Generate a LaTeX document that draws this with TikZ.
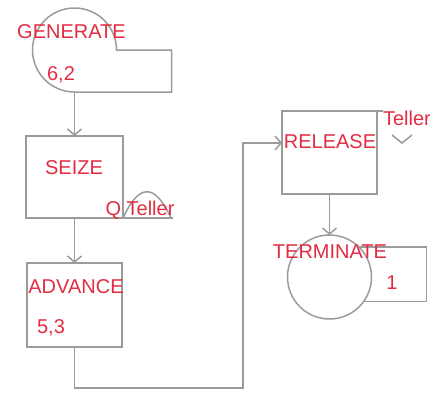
\documentclass[tikz,border=0pt]{standalone}
\usepackage{fontspec}
\setmainfont{Liberation Sans}
\usetikzlibrary{arrows.meta}
\definecolor{gpssred}{RGB}{226,44,66}
\definecolor{gpssgray}{RGB}{155,155,155}
\begin{document}
\begin{tikzpicture}[x=1pt,y=1pt,
  blk/.style={draw=gpssgray,line width=1.5pt,minimum width=97pt,minimum height=82pt},
  lbl/.style={text=gpssred,font=\fontsize{20}{24}\selectfont},
  edge/.style={draw=gpssgray,line width=1.5pt},
  flow/.style={edge,-{Straight Barb[length=6pt,width=14pt]}}]
\tikzstyle{every node}+=[inner sep=0pt,outer sep=0pt]
\useasboundingbox (0,0) rectangle (430,-394);
% blocks
\node [circle,minimum size=84pt] (gen) at (74.5,-50) {};
\draw [edge] (gen.east) arc (0:270:42) -- ++(97,0) -- ++(0,42) -- cycle;
\node [blk] (seize) at (74.5,-177) {};
\node [blk,minimum width=95pt,minimum height=84pt] (adv) at (74.5,-305) {};
\node [blk,minimum width=95pt,minimum height=83pt] (rel) at (329.5,-152.5) {};
\node [circle,draw=gpssgray,line width=1.5pt,minimum size=84pt] (term) at (329.5,-277) {};
\draw [edge] (term.46) -- ++(68,0) |- (term.-36);
% facility tags
\draw [edge] (seize.south east) -- ++(50,0);
\draw [edge] (seize.south east) .. controls (139,-183) and (155,-183) .. (171,-218);
\draw [edge] (rel.north east) -- ++(6,0);
\draw [edge] (392,-135) -- (402,-143) -- (412,-135);
% connectors
\coordinate (bend) at (243,-388);
\draw [flow] (gen.south) -- (seize.north);
\draw [flow] (seize.south) -- (adv.north);
\draw [flow] (adv.south) |- (bend) |- ([yshift=-32pt]rel.north west);
\draw [flow] (rel.south) -- (term.north);
% labels
\node [lbl] (genLbl) at (71.5,-32) {GENERATE};
\node [lbl] (genArg) at (61,-75) {6,2};
\node [lbl] (seizeLbl) at (74,-168) {SEIZE};
\node [lbl] (qLbl) at (140,-210) {Q Teller};
\node [lbl] (advLbl) at (76,-287) {ADVANCE};
\node [lbl] (advArg) at (51,-328) {5,3};
\node [lbl] (relLbl) at (330,-142) {RELEASE};
\node [lbl,anchor=west] (facLbl) at (383,-118) {Teller};
\node [lbl] (termLbl) at (330,-252) {TERMINATE};
\node [lbl] (termArg) at (392,-283) {1};
\end{tikzpicture}
\end{document}
